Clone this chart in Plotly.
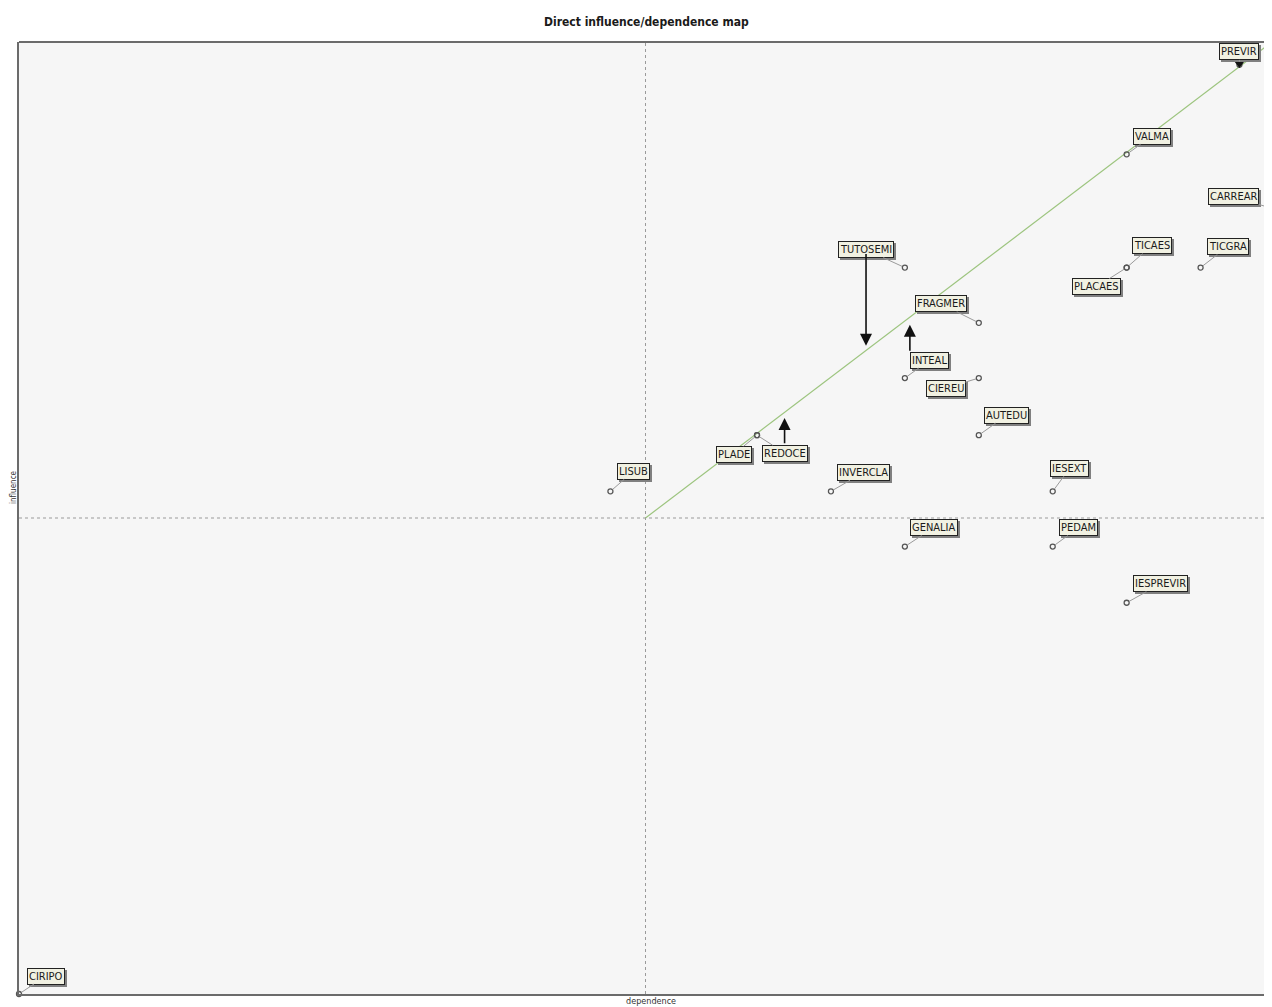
import plotly.graph_objects as go

# ---- data (dependence = x, influence = y) ----
variables = ["PREVIR", "VALMA", "CARREAR", "TICAES", "PLACAES", "TICGRA", "TUTOSEMI",
             "FRAGMER", "INTEAL", "CIEREU", "AUTEDU", "PLADE", "REDOCE", "LISUB",
             "INVERCLA", "IESEXT", "GENALIA", "PEDAM", "IESPREVIR", "CIRIPO"]
dependence = [97.4, 88.4, 99.8, 88.4, 88.4, 94.3, 70.7,
              76.6, 70.7, 76.6, 76.6, 58.9, 58.9, 47.2,
              64.8, 82.5, 70.7, 82.5, 88.4, 0.0]
influence = [97.6, 88.2, 82.6, 76.3, 76.3, 76.3, 76.3,
             70.5, 64.7, 64.7, 58.7, 58.7, 58.7, 52.8,
             52.8, 52.8, 47.0, 47.0, 41.1, 0.0]

# displacement arrows (start -> end)
arrow_names = ["TUTOSEMI", "INTEAL", "REDOCE"]
arrow_x = [67.6, 71.1, 61.1]
arrow_y_from = [77.9, 67.4, 57.7]
arrow_y_to = [68.1, 70.3, 60.5]

# label offsets in pixels (label centre relative to point)
label_dx = [0, 25, -36, 25, -30, 27, -39, -38, 25, -33, 28, -23, 28, 23, 33, 17, 29, 26, 34, 27]
label_dy = [-13, -18, -11, -22, 19, -21, -18, -19, -18, 10, -20, 19, 18, -20, -19, -23, -19, -19, -19, -18]

FONT = "Liberation Sans Narrow, Arial Narrow, DejaVu Sans Condensed, Liberation Sans, sans-serif"

# page layout (browser body has an 8px margin)
W, H = 1264, 999
ML, MT, MB = 11, 34, 13
PW = W - ML
PH = H - MT - MB


def px_to_paper(px, py):
    # px, py in window pixels
    return (px - 8 - ML) / PW, 1 - (py - 8 - MT) / PH


fig = go.Figure()

# diagonal
fig.add_trace(go.Scatter(x=[50, 100], y=[50, 100], mode="lines",
                         line=dict(color="#9cc47e", width=1.2), hoverinfo="skip", showlegend=False))

# points
fig.add_trace(go.Scatter(x=dependence, y=influence, mode="markers",
                         marker=dict(symbol="circle-open", size=5, color="#555555", line=dict(width=1.3)),
                         hovertext=variables, showlegend=False, cliponaxis=False))

# PREVIR triangle
fig.add_trace(go.Scatter(x=[dependence[0]], y=[influence[0] + 0.3], mode="markers",
                         marker=dict(symbol="triangle-down", size=12, color="#111111"),
                         hoverinfo="skip", showlegend=False, cliponaxis=False))

annotations = []
for name, x, y, dx, dy in zip(variables, dependence, influence, label_dx, label_dy):
    # shadow
    annotations.append(dict(x=x, y=y, xref="x", yref="y", text=name, showarrow=True,
                            arrowcolor="rgba(0,0,0,0)", ax=dx + 2, ay=dy + 2,
                            font=dict(family=FONT, size=11, color="#808080"),
                            bgcolor="#808080", bordercolor="#808080", borderwidth=1, borderpad=1))
    annotations.append(dict(x=x, y=y, xref="x", yref="y", text=name, showarrow=True,
                            arrowhead=0, arrowwidth=1, arrowcolor="#9a9a9a", ax=dx, ay=dy,
                            standoff=3,
                            font=dict(family=FONT, size=11, color="#1a1a1a"),
                            bgcolor="#f1f1e2", bordercolor="#222222", borderwidth=1, borderpad=1))

for name, x, y0, y1 in zip(arrow_names, arrow_x, arrow_y_from, arrow_y_to):
    annotations.append(dict(x=x, y=y1, xref="x", yref="y", ax=x, ay=y0, axref="x", ayref="y",
                            text="", showarrow=True, arrowhead=2, arrowsize=1.5, arrowwidth=1.6,
                            arrowcolor="#111111"))

tx, ty = px_to_paper(646, 22)
annotations.append(dict(text="<b>Direct influence/dependence map</b>", x=tx, y=ty,
                        xref="paper", yref="paper", showarrow=False, yanchor="middle",
                        font=dict(family=FONT, size=12, color="#1a1a1a")))
dx_, dy_ = px_to_paper(651, 1001)
annotations.append(dict(text="dependence", x=dx_, y=dy_, xref="paper", yref="paper",
                        showarrow=False, yanchor="middle",
                        font=dict(family=FONT, size=9, color="#333333")))
ix, iy = px_to_paper(13, 487)
annotations.append(dict(text="influence", x=ix, y=iy, xref="paper", yref="paper",
                        showarrow=False, textangle=-90, xanchor="center", yanchor="middle",
                        font=dict(family=FONT, size=8, color="#333333")))

fig.update_layout(
    width=W, height=H,
    margin=dict(l=ML, r=0, t=MT, b=MB, pad=0),
    paper_bgcolor="white", plot_bgcolor="#f6f6f6",
    annotations=annotations,
    xaxis=dict(range=[0, 100], showgrid=False, zeroline=False, showticklabels=False, ticks="",
               showline=True, linecolor="#6b6b6b", linewidth=2, mirror=False),
    yaxis=dict(range=[0, 100], showgrid=False, zeroline=False, showticklabels=False, ticks="",
               showline=True, linecolor="#6b6b6b", linewidth=2, mirror=False),
    shapes=[
        dict(type="line", xref="paper", yref="paper", x0=0, x1=1, y0=1, y1=1,
             line=dict(color="#6b6b6b", width=2)),
        dict(type="line", xref="x", yref="paper", x0=50, x1=50, y0=0, y1=1,
             line=dict(color="#9a9a9a", width=1, dash="dot"), layer="below"),
        dict(type="line", xref="paper", yref="y", x0=0, x1=1, y0=50, y1=50,
             line=dict(color="#9a9a9a", width=1, dash="dot"), layer="below"),
    ],
)

fig.write_html("out.html")
